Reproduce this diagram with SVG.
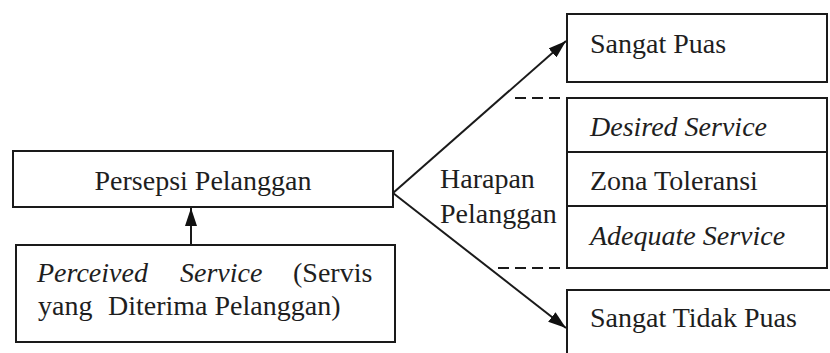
<svg xmlns="http://www.w3.org/2000/svg" width="830" height="353" viewBox="0 0 830 353">
<style>
.box{fill:#fff;stroke:#1a1a1a;stroke-width:2}
.t{font-family:"Liberation Serif","Times New Roman",serif;font-size:28px;fill:#1e1e1e}
.i{font-style:italic}
.ln{stroke:#1a1a1a;stroke-width:2;fill:none}
.dash{stroke:#1a1a1a;stroke-width:2;stroke-dasharray:11 6;fill:none}
</style>
<defs>
<marker id="ah" viewBox="0 0 18 12" refX="18" refY="6" markerWidth="18" markerHeight="12" markerUnits="userSpaceOnUse" orient="auto">
<path d="M0,0 L18,6 L0,12 Z" fill="#111"/>
</marker>
</defs>
<rect width="830" height="353" fill="#fff"/>
<g id="persepsi">
<rect class="box" x="13" y="151" width="380" height="56"/>
<text class="t" x="203" y="190" text-anchor="middle">Persepsi Pelanggan</text>
</g>
<g id="perceived">
<rect class="box" x="16" y="245" width="379" height="97"/>
<text class="t" y="282"><tspan class="i" x="37">Perceived</tspan><tspan class="i" x="180">Service</tspan><tspan x="293">(Servis</tspan></text>
<text class="t" y="315"><tspan x="38">yang</tspan><tspan x="108">Diterima Pelanggan)</tspan></text>
</g>
<g id="harapan">
<text class="t" x="440" y="188">Harapan</text>
<text class="t" x="440" y="223">Pelanggan</text>
</g>
<g id="sangat-puas">
<rect class="box" x="567" y="14" width="260" height="68"/>
<text class="t" x="590" y="53">Sangat Puas</text>
</g>
<g id="zona">
<rect class="box" x="567" y="98" width="260" height="170"/>
<line class="ln" x1="567" y1="152" x2="827" y2="152"/>
<line class="ln" x1="567" y1="206" x2="827" y2="206"/>
<text class="t i" x="590" y="136">Desired Service</text>
<text class="t" x="590" y="190">Zona Toleransi</text>
<text class="t i" x="590" y="245">Adequate Service</text>
</g>
<g id="sangat-tidak-puas">
<rect class="box" x="567" y="290" width="280" height="80"/>
<text class="t" x="590" y="327">Sangat Tidak Puas</text>
</g>
<g id="connectors">
<line class="ln" x1="191" y1="245" x2="191" y2="208" marker-end="url(#ah)"/>
<line class="ln" x1="393" y1="193" x2="566" y2="41" marker-end="url(#ah)"/>
<line class="ln" x1="393" y1="193" x2="566" y2="328" marker-end="url(#ah)"/>
<line class="dash" x1="515" y1="98" x2="567" y2="98"/>
<line class="dash" x1="498" y1="268" x2="567" y2="268"/>
</g>
</svg>
